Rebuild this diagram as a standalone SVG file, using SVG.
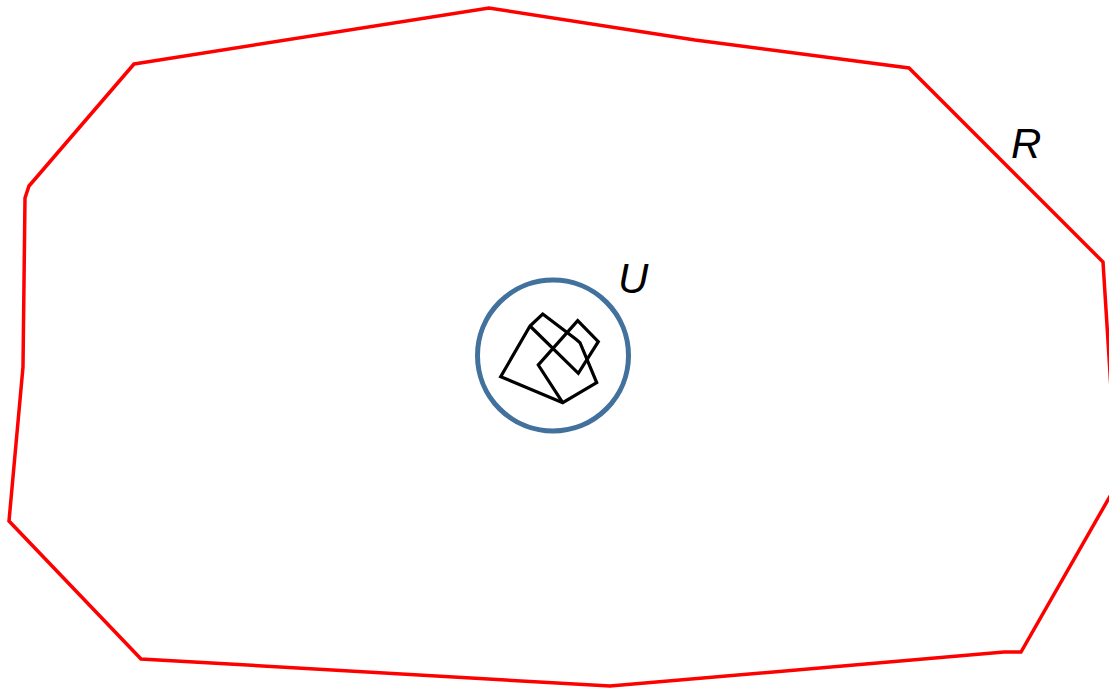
<svg xmlns="http://www.w3.org/2000/svg" width="1109" height="688" viewBox="0 0 1109 688">
<style>
.region{fill:none;stroke:#ff0000;stroke-width:3.5;stroke-linejoin:miter}
.ball{fill:none;stroke:#41719c;stroke-width:5}
.shape{fill:none;stroke:#000;stroke-width:3.2;stroke-linejoin:miter}
.lbl{font-family:"Liberation Sans",Arial,sans-serif;font-style:italic;font-size:42px;fill:#000}
</style>
<rect width="1109" height="688" fill="#fff"/>
<g id="R">
<polygon class="region" points="134,64 489,8 695,40 909,68 1103,262 1117,484 1021,652 1004,652 610,686 141,659 9,521 23,367 25,198 29,186"/>
<text class="lbl" x="1011" y="158">R</text>
</g>
<g id="U">
<circle class="ball" cx="553" cy="355.5" r="75.5"/>
<text class="lbl" x="618" y="293">U</text>
</g>
<g id="K">
<path class="shape" d="M542.7,314 L576,339.3 L580,342.7 L596.7,382.7 L562.7,402.7 L500.7,376.7 L530,326 Z"/>
<path class="shape" d="M530,326 L578.3,373.3 L598.3,341.7 L577.7,320.7 L538.3,365 L562.7,402.7"/>
</g>
</svg>
